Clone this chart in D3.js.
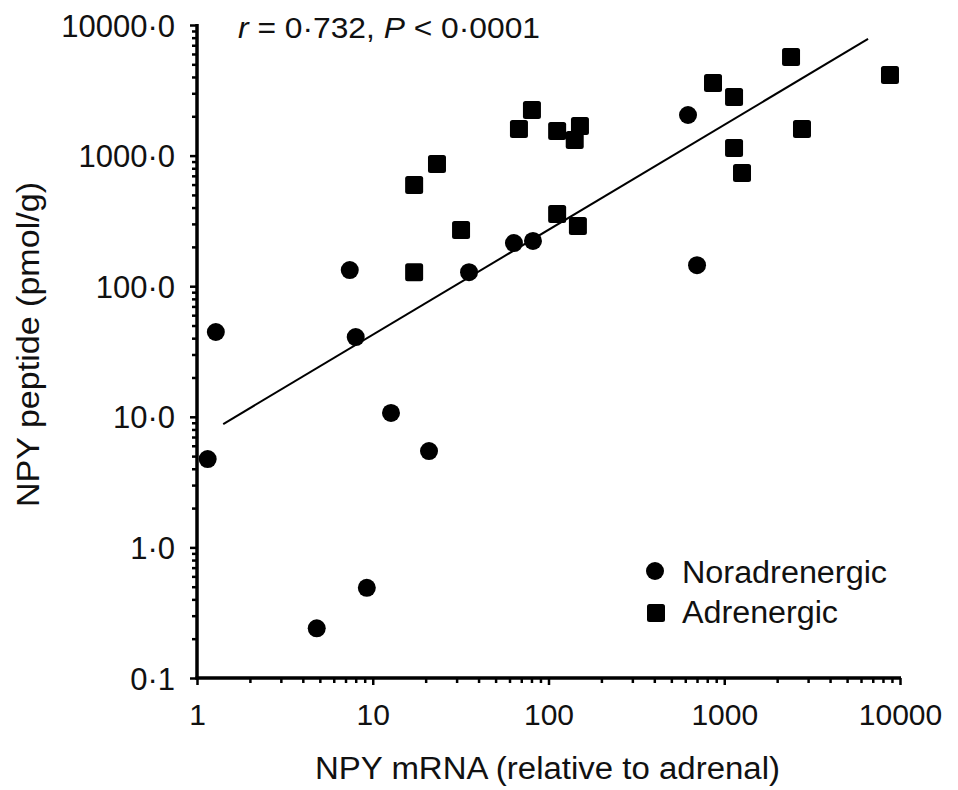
<!DOCTYPE html>
<html>
<head>
<meta charset="utf-8">
<script src="https://cdn.jsdelivr.net/npm/d3@7"></script>
<style>
  html, body { margin: 0; padding: 0; background: #fff; }
  svg { display: block; }
  text { font-family: "Liberation Sans", Arial, Helvetica, sans-serif; fill: #111; }
</style>
</head>
<body>
<svg id="chart" width="958" height="790"></svg>
<script>
// ---- data ----
const seriesNames = ["Noradrenergic", "Adrenergic"];
const noraX = [1.15, 1.28, 4.8, 9.25, 7.4, 8.0, 12.7, 20.9, 35.3, 63.6, 81.6, 622, 700];
const noraY = [4.75, 44.6, 0.24, 0.49, 133, 40.8, 10.7, 5.47, 128, 214, 222, 2046, 145];
const adreX = [17.2, 17.2, 23.2, 31.8, 67.9, 80.5, 112, 112, 141, 151, 147, 863, 1137, 1137, 1262, 2399, 2769, 8770];
const adreY = [596, 128, 862, 269, 1598, 2235, 1543, 357, 1317, 1686, 289, 3597, 2812, 1143, 736, 5690, 1598, 4142];
const fitX = [1.41, 6580];
const fitY = [8.8, 7820];
const xMajorTicks = [1, 10, 100, 1000, 10000];
const xTickLabels = ["1", "10", "100", "1000", "10000"];
const yMajorTicks = [0.1, 1, 10, 100, 1000, 10000];
const yTickLabels = ["0·1", "1·0", "10·0", "100·0", "1000·0", "10000·0"];
const xTitle = "NPY mRNA (relative to adrenal)";
const yTitle = "NPY peptide (pmol/g)";

// ---- chart ----
const svg = d3.select("#chart");
const x = d3.scaleLog().domain([1, 10000]).range([197, 900]);
const y = d3.scaleLog().domain([0.1, 10000]).range([678, 25]);

function minorTicks(majors) {
  const out = [];
  for (let i = 0; i < majors.length - 1; i++) {
    for (let k = 2; k <= 9; k++) out.push(majors[i] * k);
  }
  return out;
}

// X axis: minor ticks
const gxMinor = svg.append("g").attr("transform", `translate(0,${y(0.1)})`)
  .call(d3.axisBottom(x).tickValues(minorTicks(xMajorTicks)).tickSize(5).tickFormat(""));
// X axis: major ticks + labels
const gx = svg.append("g").attr("transform", `translate(0,${y(0.1)})`)
  .call(d3.axisBottom(x).tickValues(xMajorTicks).tickSize(7).tickSizeOuter(0)
    .tickFormat((d, i) => xTickLabels[i]));
gx.selectAll(".tick text").attr("font-size", 30).attr("dy", null).attr("y", 47)
  .style("font-family", "'Liberation Sans', Arial, sans-serif").attr("fill", "#111");

// Y axis: minor ticks
const gyMinor = svg.append("g").attr("transform", `translate(${x(1)},0)`)
  .call(d3.axisLeft(y).tickValues(minorTicks(yMajorTicks)).tickSize(5).tickFormat(""));
const gy = svg.append("g").attr("transform", `translate(${x(1)},0)`)
  .call(d3.axisLeft(y).tickValues(yMajorTicks).tickSize(7).tickSizeOuter(0)
    .tickFormat((d, i) => yTickLabels[i]));
gy.selectAll(".tick text").attr("font-size", 31).attr("x", -22).attr("dy", "0.36em")
  .style("font-family", "'Liberation Sans', Arial, sans-serif").attr("fill", "#111");

[gxMinor, gx, gyMinor, gy].forEach(g => {
  g.select(".domain").attr("stroke", "#000").attr("stroke-width", 3.5);
  g.selectAll(".tick line").attr("stroke", "#000").attr("stroke-width", 2.5);
});
gxMinor.select(".domain").remove();
gyMinor.select(".domain").remove();
gx.select(".domain").attr("d", `M${x(1) - 1.5},0H${x(10000) + 1}`);
gy.select(".domain").attr("d", `M0,${y(0.1) + 1.5}V${y(10000) - 1}`);

// Regression line
svg.append("line")
  .attr("x1", x(fitX[0])).attr("y1", y(fitY[0]))
  .attr("x2", x(fitX[1])).attr("y2", y(fitY[1]))
  .attr("stroke", "#000").attr("stroke-width", 2);

// Points
const nora = noraX.map((v, i) => ({ x: v, y: noraY[i] }));
const adre = adreX.map((v, i) => ({ x: v, y: adreY[i] }));
const S = 18;
svg.append("g").selectAll("circle").data(nora).join("circle")
  .attr("cx", d => x(d.x)).attr("cy", d => y(d.y)).attr("r", S / 2).attr("fill", "#000");
svg.append("g").selectAll("rect").data(adre).join("rect")
  .attr("x", d => x(d.x) - S / 2).attr("y", d => y(d.y) - S / 2)
  .attr("width", S).attr("height", S).attr("rx", 2.5).attr("fill", "#000");

// Axis titles
svg.append("text").attr("x", 315).attr("y", 779)
  .attr("font-size", 31).attr("textLength", 465).attr("lengthAdjust", "spacingAndGlyphs")
  .text(xTitle);
svg.append("text").attr("transform", "translate(39,507) rotate(-90)")
  .attr("font-size", 31.5).attr("textLength", 325).attr("lengthAdjust", "spacingAndGlyphs")
  .text(yTitle);

// Annotation
const ann = svg.append("text").attr("x", 238).attr("y", 38).attr("font-size", 29)
  .attr("textLength", 302).attr("lengthAdjust", "spacingAndGlyphs");
ann.append("tspan").attr("font-style", "italic").text("r");
ann.append("tspan").text(" = 0·732,  ");
ann.append("tspan").attr("font-style", "italic").text("P");
ann.append("tspan").text(" < 0·0001");

// Legend
const leg = svg.append("g");
leg.append("circle").attr("cx", 655).attr("cy", 571).attr("r", S / 2).attr("fill", "#000");
leg.append("rect").attr("x", 656 - S / 2).attr("y", 613 - S / 2).attr("width", S).attr("height", S)
  .attr("rx", 2.5).attr("fill", "#000");
leg.append("text").attr("x", 682).attr("y", 583).attr("font-size", 31)
  .attr("textLength", 205).attr("lengthAdjust", "spacingAndGlyphs").text(seriesNames[0]);
leg.append("text").attr("x", 682).attr("y", 623).attr("font-size", 31)
  .attr("textLength", 156).attr("lengthAdjust", "spacingAndGlyphs").text(seriesNames[1]);
</script>
</body>
</html>
